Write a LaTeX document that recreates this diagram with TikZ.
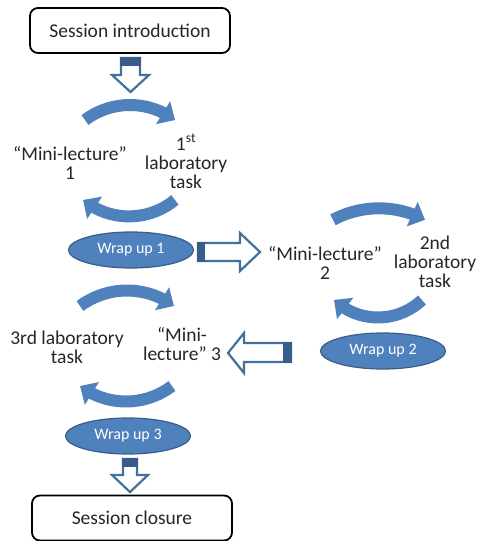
\documentclass[tikz,border=0pt]{standalone}
\usepackage{fontspec}
\setmainfont{Carlito}
\usetikzlibrary{arrows.meta,bending,shapes.geometric}
\definecolor{obl}{HTML}{4F81BD}
\definecolor{odk}{HTML}{385D8A}
\definecolor{oline}{HTML}{41719C}
\begin{document}
\begin{tikzpicture}[x=1pt,y=1pt,
  txt/.style={font=\fontsize{19.5}{19}\selectfont, align=center, inner sep=0pt, text=black!85},
  box/.style={draw=black, line width=1.8pt, rounded corners=8pt, fill=white, minimum width=200pt, minimum height=45pt},
  wrap/.style={ellipse, draw=odk, line width=1.2pt, fill=obl, text=white, font=\fontsize{16}{17}\selectfont, inner sep=0pt, minimum width=125pt, minimum height=36pt},
  curv/.style={draw=obl, line width=12pt, -{Triangle[width=26pt,length=14pt]}},
  blk/.style={draw=oline, line width=2.2pt, fill=white, line join=miter},
  stub/.style={fill=odk}
]
\useasboundingbox (0,0) rectangle (478,-541);
\begin{scope}
\clip (0,0) rectangle (478,-541);
% boxes
\node[box, txt] (intro) at (130,-30.5) {Session introduction};
\node[box, txt] (closure) at (132,-518) {Session closure};
% wrap ups
\node[wrap] (w1) at (131,-250) {Wrap up 1};
\node[wrap] (w2) at (383,-351) {Wrap up 2};
\node[wrap] (w3) at (128,-436) {Wrap up 3};
% texts
\node[txt] (ml1) at (70,-162.5) {“Mini-lecture”\\1};
\node[txt] (lt1) at (186,-161.5) {1\textsuperscript{st}\\laboratory\\task};
\node[txt] (ml2) at (325,-262.5) {“Mini-lecture”\\2};
\node[txt] (lt2) at (435,-262) {2nd\\laboratory\\task};
\node[txt] (lt3) at (67,-347) {3rd laboratory\\task};
\node[txt] (ml3) at (182,-344) {“Mini-\\lecture” 3};
% curved cycle arrows
\draw[curv] (130,-180) ++(126.9:75) arc[start angle=126.9, end angle=53.1, radius=75pt];
\draw[curv] (129,-144) ++(-50.6:72.4) arc[start angle=-50.6, end angle=-129.4, radius=72.4pt];
\draw[curv] (379,-306) ++(118.1:97.7) arc[start angle=118.1, end angle=61.9, radius=97.7pt];
\draw[curv] (378,-253.5) ++(-46.6:64) arc[start angle=-46.6, end angle=-133.4, radius=64pt];
\draw[curv] (127,-369.5) ++(126.5:79) arc[start angle=126.5, end angle=53.5, radius=79pt];
\draw[curv] (126,-325.5) ++(-52.8:76) arc[start angle=-52.8, end angle=-127.2, radius=76pt];
% block arrows
% intro -> cycle 1
\draw[blk] (121,-58) -- (140,-58) -- (140,-75) -- (149,-75) -- (130.5,-92) -- (112,-75) -- (121,-75) -- cycle;
\fill[stub] (119.9,-56.9) rectangle (141.1,-66);
% w1 -> ml2
\draw[blk] (198,-243) -- (240,-243) -- (240,-233) -- (260,-252) -- (240,-271) -- (240,-261) -- (198,-261) -- cycle;
\fill[stub] (196.9,-241.9) rectangle (205,-262.1);
% w2 -> ml3
\draw[blk] (291,-343) -- (244,-343) -- (244,-333) -- (228,-353) -- (244,-373) -- (244,-362) -- (291,-362) -- cycle;
\fill[stub] (283,-341.9) rectangle (292.1,-363.1);
% w3 -> closure
\draw[blk] (123,-459) -- (137,-459) -- (137,-475) -- (148,-475) -- (130,-492) -- (112,-475) -- (123,-475) -- cycle;
\fill[stub] (121.9,-457.9) rectangle (138.1,-467);
\end{scope}
\end{tikzpicture}
\end{document}
